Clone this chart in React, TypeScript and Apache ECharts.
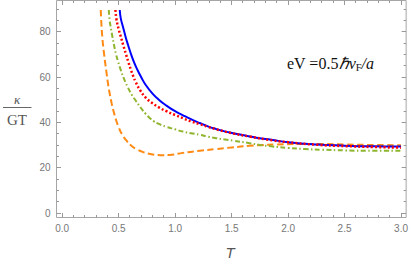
import React, { useEffect, useRef } from "react";
import * as echarts from "echarts";

// ---- axis ranges / ticks ----
const X_MIN = -0.05;
const X_MAX = 3.045;
const Y_MIN = -1.94;
const Y_MAX = 93.9;
const xMajorTicks = [0, 0.5, 1.0, 1.5, 2.0, 2.5, 3.0];
const xMinorTicks = [0.1, 0.2, 0.3, 0.4, 0.6, 0.7, 0.8, 0.9, 1.1, 1.2, 1.3, 1.4, 1.6, 1.7, 1.8, 1.9, 2.1, 2.2, 2.3, 2.4, 2.6, 2.7, 2.8, 2.9];
const yMajorTicks = [0, 20, 40, 60, 80];
const yMinorTicks = [5, 10, 15, 25, 30, 35, 45, 50, 55, 65, 70, 75, 85, 90];

// ---- series ----
// blue solid
const blueT = [0.51, 0.519, 0.54, 0.563, 0.585, 0.607, 0.635, 0.667, 0.7, 0.74, 0.8, 0.858, 0.923, 1.0, 1.07, 1.14, 1.217, 1.29, 1.365, 1.44, 1.512, 1.66, 1.75, 1.85, 2.0, 2.25, 2.5, 2.75, 3.0];
const blueV = [89.7, 86.0, 82.0, 77.6, 74.0, 70.6, 66.8, 63.2, 60.0, 56.6, 52.8, 50.0, 47.5, 45.0, 43.2, 41.5, 39.8, 38.3, 37.1, 36.1, 35.3, 33.8, 33.1, 32.4, 31.3, 30.3, 29.8, 29.5, 29.4];

// red dotted
const redT = [0.472, 0.481, 0.5, 0.519, 0.54, 0.563, 0.585, 0.607, 0.63, 0.652, 0.69, 0.74, 0.8, 0.86, 0.923, 1.0, 1.07, 1.14, 1.217, 1.29, 1.365, 1.44, 1.512, 1.66, 1.8, 2.0, 2.25, 2.5, 2.75, 3.0];
const redV = [89.7, 85.5, 81.3, 78.0, 74.3, 70.5, 66.9, 63.5, 60.4, 57.8, 54.3, 51.0, 48.5, 46.6, 45.0, 43.3, 41.9, 40.5, 39.3, 38.1, 37.0, 36.0, 35.2, 33.8, 32.6, 31.3, 30.2, 29.6, 29.2, 28.9];

// green dash-dot
const greenT = [0.413, 0.42, 0.432, 0.445, 0.46, 0.475, 0.497, 0.519, 0.548, 0.578, 0.615, 0.652, 0.695, 0.74, 0.775, 0.81, 0.85, 0.923, 1.0, 1.07, 1.14, 1.217, 1.29, 1.365, 1.44, 1.512, 1.66, 1.75, 1.85, 2.0, 2.15, 2.3, 2.5, 2.75, 3.0];
const greenV = [89.7, 85.3, 81.5, 77.9, 74.0, 70.6, 66.6, 63.2, 59.3, 55.9, 52.4, 49.6, 46.6, 43.8, 42.0, 40.6, 39.5, 38.1, 37.0, 36.0, 35.3, 34.6, 33.8, 33.1, 32.5, 32.0, 30.9, 30.1, 29.5, 28.8, 28.3, 28.0, 27.7, 27.5, 27.5];

// orange dashed
const orangeT = [0.342, 0.347, 0.355, 0.363, 0.372, 0.383, 0.395, 0.408, 0.422, 0.438, 0.455, 0.475, 0.5, 0.53, 0.565, 0.61, 0.66, 0.72, 0.79, 0.87, 0.95, 1.07, 1.2, 1.365, 1.5, 1.66, 1.75, 1.9, 2.1, 2.3, 2.5, 2.75, 3.0];
const orangeV = [89.7, 84.0, 78.0, 73.8, 70.0, 65.6, 61.2, 56.5, 52.5, 48.5, 45.0, 41.5, 38.0, 34.8, 32.3, 29.9, 28.2, 26.9, 26.0, 25.6, 25.7, 26.6, 27.4, 28.3, 29.0, 29.7, 30.0, 30.3, 30.5, 30.5, 30.3, 30.1, 30.0];

const zip = (t: number[], v: number[]) => t.map((x, i) => [x, v[i]]);

const FRAME = "#a6a6a6";
const TICK = "#999999";
const LABEL = "#777777";
const W = 411;
const H = 265;
const MAJOR_LEN = 4.5;
const MINOR_LEN = 2.5;

export default function App() {
  const ref = useRef<HTMLDivElement>(null);
  useEffect(() => {
    document.body.style.margin = "0";
    const chart = echarts.init(ref.current!, undefined, { renderer: "svg" });

    const lineSeries = (name: string, t: number[], v: number[], color: string, type: any, width: number) => ({
      name,
      type: "line",
      data: zip(t, v),
      smooth: 0.5,
      showSymbol: false,
      symbol: "none",
      lineStyle: { color, width, type, cap: "butt" },
      z: 3,
    });

    const textGraphics: any[] = [
      {
        type: "text",
        left: 287,
        top: 55,
        style: {
          text: "{n|eV =0.5}{i|ℏv}{s|F}{i|/a}",
          rich: {
            n: { fontFamily: "Liberation Serif", fontSize: 16, fill: "#111" },
            i: { fontFamily: "Liberation Serif", fontStyle: "italic", fontSize: 16, fill: "#111" },
            s: { fontFamily: "Liberation Serif", fontSize: 10.5, fill: "#111", padding: [8, 0, 0, 0] },
          },
        },
      },
      {
        type: "text",
        x: 17,
        y: 99,
        style: { text: "κ", fontFamily: "Liberation Serif", fontStyle: "italic", fontSize: 13, fill: "#555", align: "center", verticalAlign: "middle" },
      },
      {
        type: "line",
        shape: { x1: 3, y1: 107.5, x2: 31.5, y2: 107.5 },
        style: { stroke: "#666", lineWidth: 1 },
      },
      {
        type: "text",
        x: 17,
        y: 120,
        style: { text: "GT", fontFamily: "Liberation Serif", fontSize: 15, fill: "#555", align: "center", verticalAlign: "middle" },
      },
      {
        type: "text",
        x: 230,
        y: 252,
        style: { text: "T", fontFamily: "Liberation Sans", fontStyle: "italic", fontSize: 15, fill: "#555", align: "center", verticalAlign: "middle" },
      },
    ];

    chart.setOption({
      animation: false,
      grid: {
        left: 56.5,
        right: 4.5,
        top: 0.5,
        bottom: 47.5,
        show: true,
        borderColor: FRAME,
        borderWidth: 1,
        backgroundColor: "transparent",
      },
      xAxis: {
        type: "value",
        min: X_MIN,
        max: X_MAX,
        axisLine: { show: false, onZero: false },
        splitLine: { show: false },
        axisTick: { show: false },
        axisLabel: {
          show: true,
          customValues: xMajorTicks,
          formatter: (v: number) => v.toFixed(1),
          color: LABEL,
          fontSize: 10,
          fontFamily: "Liberation Sans",
          margin: 6,
        },
      },
      yAxis: {
        type: "value",
        min: Y_MIN,
        max: Y_MAX,
        axisLine: { show: false, onZero: false },
        splitLine: { show: false },
        axisTick: { show: false },
        axisLabel: {
          show: true,
          customValues: yMajorTicks,
          formatter: (v: number) => String(Math.round(v)),
          color: LABEL,
          fontSize: 10,
          fontFamily: "Liberation Sans",
          margin: 6,
        },
      },
      series: [
        lineSeries("orange", orangeT, orangeV, "#ff8a14", [6.5, 3.5], 2),
        lineSeries("green", greenT, greenV, "#8fb52e", [5, 2.5, 1.5, 2.5], 2),
        lineSeries("blue", blueT, blueV, "#0000ff", "solid", 2),
        lineSeries("red", redT, redV, "#ff0000", [2, 2.2], 2.5),
      ],
      graphic: textGraphics,
    });

    // frame ticks, placed through the chart's own axis scales
    const toPx = (x: number, y: number) => chart.convertToPixel({ gridIndex: 0 }, [x, y]) as number[];
    const snap = (p: number) => Math.round(p - 0.5) + 0.5;
    const st = { stroke: TICK, lineWidth: 1 };
    const ticks: any[] = [];
    const addX = (v: number, len: number) => {
      const b = toPx(v, Y_MIN);
      const t = toPx(v, Y_MAX);
      const x = snap(b[0]);
      ticks.push({ type: "line", silent: true, shape: { x1: x, y1: b[1], x2: x, y2: b[1] - len }, style: st });
      ticks.push({ type: "line", silent: true, shape: { x1: x, y1: t[1], x2: x, y2: t[1] + len }, style: st });
    };
    const addY = (v: number, len: number) => {
      const l = toPx(X_MIN, v);
      const r = toPx(X_MAX, v);
      const y = snap(l[1]);
      ticks.push({ type: "line", silent: true, shape: { x1: l[0], y1: y, x2: l[0] + len, y2: y }, style: st });
      ticks.push({ type: "line", silent: true, shape: { x1: r[0], y1: y, x2: r[0] - len, y2: y }, style: st });
    };
    xMajorTicks.forEach((v) => addX(v, MAJOR_LEN));
    xMinorTicks.forEach((v) => addX(v, MINOR_LEN));
    yMajorTicks.forEach((v) => addY(v, MAJOR_LEN));
    yMinorTicks.forEach((v) => addY(v, MINOR_LEN));

    chart.setOption({ graphic: [...textGraphics, ...ticks] });

    return () => chart.dispose();
  }, []);
  return <div ref={ref} style={{ width: W, height: H }} />;
}
